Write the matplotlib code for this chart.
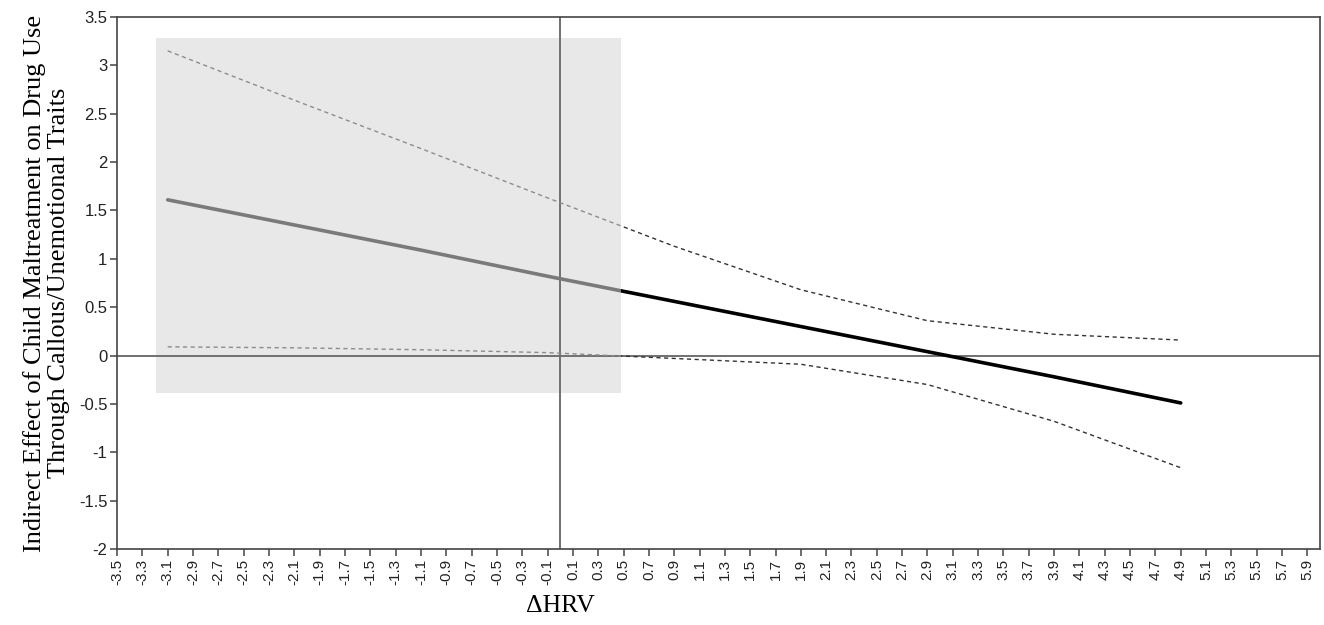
import matplotlib
matplotlib.use("Agg")
import matplotlib.pyplot as plt
from matplotlib.patches import Rectangle

# values
hrv = [-3.1, -2.1, -1.1, -0.1, 0.9, 1.9, 2.9, 3.9, 4.9]
effect = [1.61, 1.35, 1.09, 0.82, 0.56, 0.30, 0.04, -0.22, -0.49]
upper_ci = [3.15, 2.64, 2.14, 1.63, 1.13, 0.68, 0.36, 0.22, 0.16]
lower_ci = [0.09, 0.08, 0.06, 0.03, -0.03, -0.09, -0.30, -0.68, -1.16]

# region of significance (shaded)
region_x = (-3.19, 0.48)
region_y = (-0.39, 3.28)

x_ticks = [round(-3.5 + 0.2 * i, 1) for i in range(48)]
y_ticks = [-2, -1.5, -1, -0.5, 0, 0.5, 1, 1.5, 2, 2.5, 3, 3.5]

fig = plt.figure(figsize=(13.24, 6.25), dpi=100)
ax = fig.add_axes([0.0884, 0.1216, 0.9086, 0.8512])

shade = Rectangle((region_x[0], region_y[0]), region_x[1] - region_x[0],
                  region_y[1] - region_y[0], facecolor='#e8e8e8', edgecolor='none', zorder=0)
ax.add_patch(shade)

ax.axhline(0, color='#707070', lw=1.4, zorder=1)
ax.axvline(0, color='#707070', lw=1.4, zorder=1)

# clip regions: grey inside the shaded box, black outside
inside = Rectangle((region_x[0], region_y[0]), region_x[1] - region_x[0],
                   region_y[1] - region_y[0], transform=ax.transData)
outside = Rectangle((region_x[1], -10), 20, 20, transform=ax.transData)

for clip, col_main, col_ci in [(inside, '#7a7a7a', '#8c8c8c'), (outside, '#000000', '#333333')]:
    l1, = ax.plot(hrv, effect, color=col_main, lw=2.6, solid_capstyle='round', zorder=3)
    l2, = ax.plot(hrv, upper_ci, color=col_ci, lw=1.0, linestyle=(0, (3, 2.5)), zorder=2)
    l3, = ax.plot(hrv, lower_ci, color=col_ci, lw=1.0, linestyle=(0, (3, 2.5)), zorder=2)
    for ln in (l1, l2, l3):
        ln.set_clip_path(clip)

ax.set_xlim(-3.5, 6.0)
ax.set_ylim(-2, 3.5)
ax.set_xticks(x_ticks)
ax.set_xticklabels(['%.1f' % v for v in x_ticks], rotation=90)
ax.set_yticks(y_ticks)
ax.set_yticklabels(['%g' % v for v in y_ticks])

for s in ax.spines.values():
    s.set_color('#444444')
    s.set_linewidth(1.2)
ax.tick_params(direction='out', length=5, width=1.1, color='#444444',
               labelcolor='#222222', pad=2)
ax.tick_params(axis='y', labelsize=12)
ax.tick_params(axis='x', labelsize=11)
for lab in ax.get_xticklabels() + ax.get_yticklabels():
    lab.set_family(['Liberation Sans', 'DejaVu Sans'])

ax.set_ylabel('Indirect Effect of Child Maltreatment on Drug Use\nThrough Callous/Unemotional Traits',
              family=['Liberation Serif', 'DejaVu Serif'], fontsize=19, linespacing=1.15, labelpad=6)
ax.text(0, -0.107, '\u0394HRV', transform=ax.get_xaxis_transform(), ha='center', va='center',
        family=['Liberation Serif', 'DejaVu Serif'], fontsize=18.5)

fig.savefig('out.png', dpi=100)
